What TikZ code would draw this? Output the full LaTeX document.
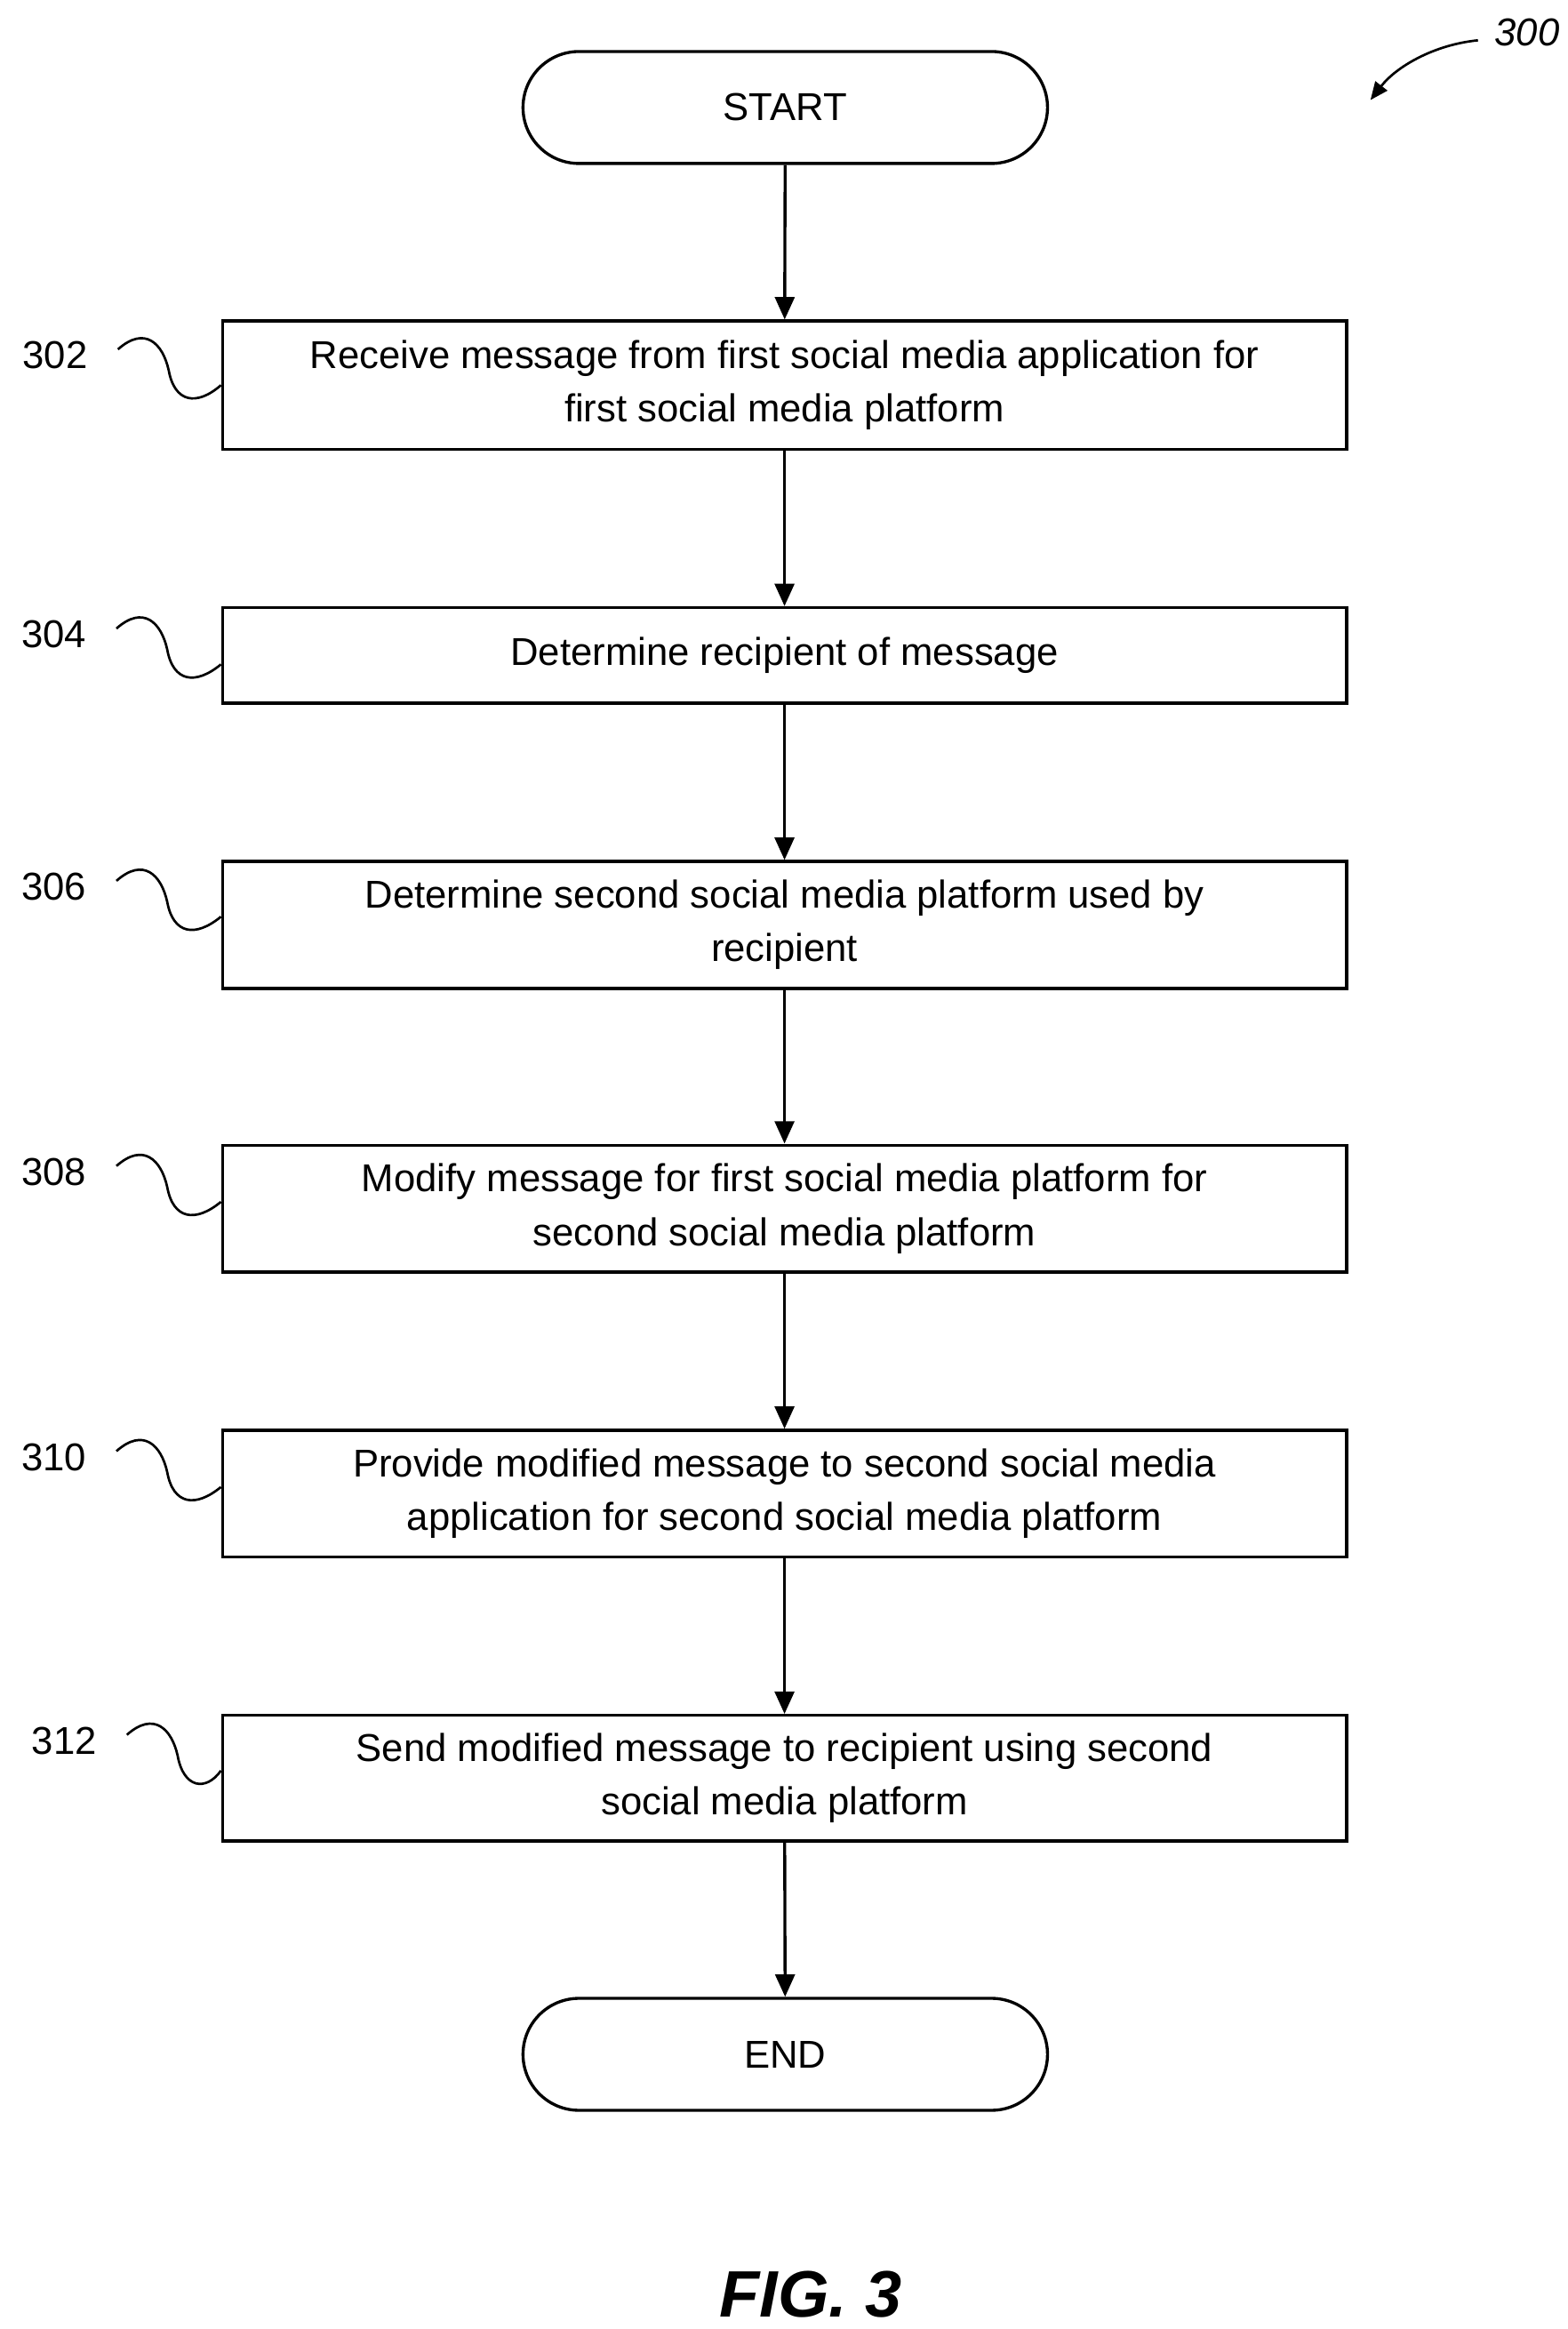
\documentclass[tikz,border=0pt]{standalone}
\usepackage{fontspec}
\setmainfont{Liberation Sans}
\usetikzlibrary{arrows.meta,shapes.misc}
\begin{document}
\begin{tikzpicture}[x=1pt,y=-1pt,
  box/.style={draw,line width=2pt,minimum width=753pt,align=center,font=\fontsize{26}{36}\selectfont,inner sep=0pt},
  term/.style={draw,line width=2pt,rounded rectangle,minimum width=358pt,minimum height=75pt,font=\fontsize{26}{36}\selectfont},
  arr/.style={line width=2pt,-{Triangle[length=15pt,width=13pt]}},
  sq/.style={line width=1.6pt},
  lab/.style={font=\fontsize{26}{30}\selectfont}]
\useasboundingbox (0,0) rectangle (1050,1560);
\node[term] (s) at (526,72) {START};
\node[box,minimum height=86pt] (b1) at (525.5,258) {Receive message from first social media application for\\first social media platform};
\node[box,minimum height=64pt] (b2) at (525.5,439) {Determine recipient of message};
\node[box,minimum height=85pt] (b3) at (525.5,619.5) {Determine second social media platform used by\\recipient};
\node[box,minimum height=85pt] (b4) at (525.5,809.5) {Modify message for first social media platform for\\second social media platform};
\node[box,minimum height=85pt] (b5) at (525.5,1000.5) {Provide modified message to second social media\\application for second social media platform};
\node[box,minimum height=84pt] (b6) at (525.5,1191) {Send modified message to recipient using second\\social media platform};
\node[term] (e) at (526,1376) {END};
\draw[arr] (s) -- (b1);
\draw[arr] (b1) -- (b2);
\draw[arr] (b2) -- (b3);
\draw[arr] (b3) -- (b4);
\draw[arr] (b4) -- (b5);
\draw[arr] (b5) -- (b6);
\draw[arr] (b6) -- (e);
\foreach \n/\t/\y/\lx in {b1/302/238/37,b2/304/425/36,b3/306/594/36,b4/308/785/36,b5/310/976/36,b6/312/1166/43}{
  \node[lab] (l\n) at (\lx,\y) {\t};
  \draw[sq] (\lx+42,\y-4) .. controls (\lx+60,\y-20) and (\lx+72,\y-8) .. (\lx+76,\y+10)
     .. controls (\lx+80,\y+32) and (\lx+95,\y+34) .. (\n.west|-0,\y+20);
}
\node[font=\itshape\fontsize{26}{30}\selectfont] (n300) at (1023,22) {300};
\coordinate (a300) at (918,67);
\draw[line width=1.6pt,-{Triangle[length=12pt,width=10pt]}] (990,27) .. controls (960,30) and (935,45) .. (a300);
\node[font=\bfseries\itshape\fontsize{44}{50}\selectfont] (fig) at (543,1537) {FIG. 3};
\end{tikzpicture}
\end{document}
